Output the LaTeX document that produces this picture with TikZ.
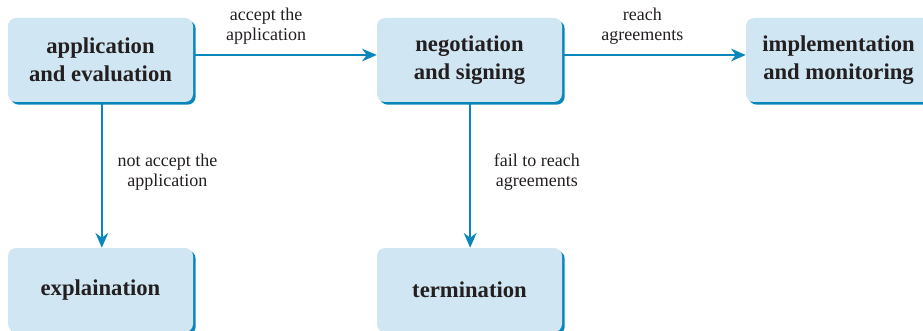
\documentclass[tikz,border=0pt]{standalone}
\usepackage{fontspec}
\setmainfont{Liberation Serif}
\usetikzlibrary{arrows.meta,shadows}

\definecolor{boxfill}{HTML}{D0E6F2}
\definecolor{flowblue}{HTML}{0A87BA}
\definecolor{inktext}{HTML}{231F20}

\tikzset{
  stage/.style={draw=none, fill=boxfill, rounded corners=6pt, minimum width=138.75pt, minimum height=63pt,
    align=center, text=inktext, font=\fontsize{17}{21}\selectfont\bfseries,
    drop shadow={shadow xshift=2pt, shadow yshift=-2pt, fill=flowblue, opacity=1}},
  flow/.style={draw=flowblue, line width=1.5pt, -{Stealth[length=11pt,width=9.5pt,inset=3.5pt]}},
  cond/.style={text=inktext, font=\fontsize{13.5}{15}\selectfont, align=center, inner sep=0pt}
}

\begin{document}
\begin{tikzpicture}[x=0.75pt,y=0.75pt,yscale=-1,xscale=1]
\useasboundingbox (0,0) rectangle (923,331);
% stages
\node [stage] (apply) at (100.5,60) {application\\and evaluation};
\node [stage] (negot) at (469.5,60) {negotiation\\and signing};
\node [stage] (implem) at (838.5,60) {implementation\\and monitoring};
\node [stage] (explain) at (100.5,290) {explaination};
\node [stage] (termin) at (469.5,290) {termination};
% transitions
\draw [flow] ([yshift=-3.75pt]apply.east) ++(2,0) -- ([yshift=-3.75pt]negot.west)
  node [cond, pos=0.39, above=7pt] (accept) {accept the\\application};
\draw [flow] ([yshift=-3.75pt]negot.east) ++(2,0) -- ([yshift=-3.75pt]implem.west)
  node [cond, pos=0.43, above=7pt] (reach) {reach\\agreements};
\draw [flow] ([xshift=1pt]apply.south) ++(0,2) -- ([xshift=1pt]explain.north)
  node [cond, pos=0.47, anchor=west, xshift=11pt] (reject) {not accept the\\application};
\draw [flow] ([xshift=0.5pt]negot.south) ++(0,2) -- ([xshift=0.5pt]termin.north)
  node [cond, pos=0.47, anchor=west, xshift=17pt] (fail) {fail to reach\\agreements};
\end{tikzpicture}
\end{document}
